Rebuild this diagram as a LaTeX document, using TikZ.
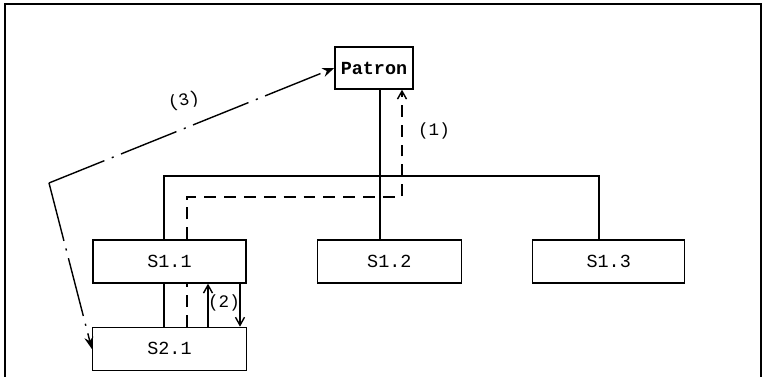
\documentclass[tikz,border=0pt]{standalone}
\usepackage{fontspec}
\setmonofont{Liberation Mono}
\usetikzlibrary{arrows.meta, positioning, calc}

\begin{document}
\begin{tikzpicture}[
    x=0.02cm, y=0.02cm,
    line width=0.8pt,
    unitbox/.style={draw, fill=white, inner sep=0pt, minimum height=0.86cm, font=\ttfamily\fontsize{10.5}{12}\selectfont},
    lbl/.style={font=\ttfamily\fontsize{10}{12}\selectfont, inner sep=1pt},
    reqpath/.style={dash pattern=on 6.8pt off 4.5pt},
    replypath/.style={dash pattern=on 34pt off 4.5pt on 1.2pt off 4.5pt},
    smallarrow/.style={-{Straight Barb[length=1.6mm, width=1.8mm]}},
    bigarrow/.style={-{Stealth[length=2.4mm, width=1.8mm]}}
]
\useasboundingbox (0,0) rectangle (765,377);

% Frame
\draw (5,0) -- (5,373) -- (761,373) -- (761,0);

% Top node
\node (patron) [unitbox, minimum width=1.56cm, minimum height=0.84cm, font=\ttfamily\bfseries\fontsize{10.5}{12}\selectfont] at (374,309) {Patron};

% First level
\node (s11) [unitbox, minimum width=3.06cm] at (169.5,115.5) {S1.1};
\node (s12) [unitbox, minimum width=2.88cm, right=1.4cm of s11] {S1.2};
\node (s13) [unitbox, minimum width=3.04cm, right=1.4cm of s12] {S1.3};

% Second level
\node (s21) [unitbox, minimum width=3.08cm, below=0.86cm of s11] {S2.1};

% Tree lines
\coordinate (busL) at (164,201);
\coordinate (busR) at (599,201);
\coordinate (trunk) at (380,201);
\draw (busL |- s11.north) -- (busL) -- (busR) -- (busR |- s13.north);
\draw (trunk |- patron.south) -- (trunk |- s12.north);
\draw (busL |- s11.south) -- (busL |- s21.north);

% Path (1)
\coordinate (up1) at (187,180);
\coordinate (up1r) at (402,180);
\draw [reqpath] (up1 |- s21.north) -- (up1 |- s11.south);
\draw [reqpath, smallarrow] (up1 |- s11.north) -- (up1) -- (up1r) -- (up1r |- patron.south);
\node (l1) [lbl] at (434,246) {(1)};

% Path (2)
\coordinate (up2) at (208,0);
\coordinate (dn2) at (240,0);
\draw [smallarrow] (up2 |- s21.north) -- (up2 |- s11.south);
\draw [smallarrow] (dn2 |- s11.south) -- (dn2 |- s21.north);
\node (l2) [lbl] at (224,74) {(2)};

% Path (3)
\coordinate (bend3) at (49,194);
\draw [replypath, bigarrow] (bend3) -- (patron.west);
\draw [replypath, bigarrow] (bend3) -- (s21.west);
\node (l3) [lbl, rotate=12] at (184,276) {(3)};

\end{tikzpicture}
\end{document}
